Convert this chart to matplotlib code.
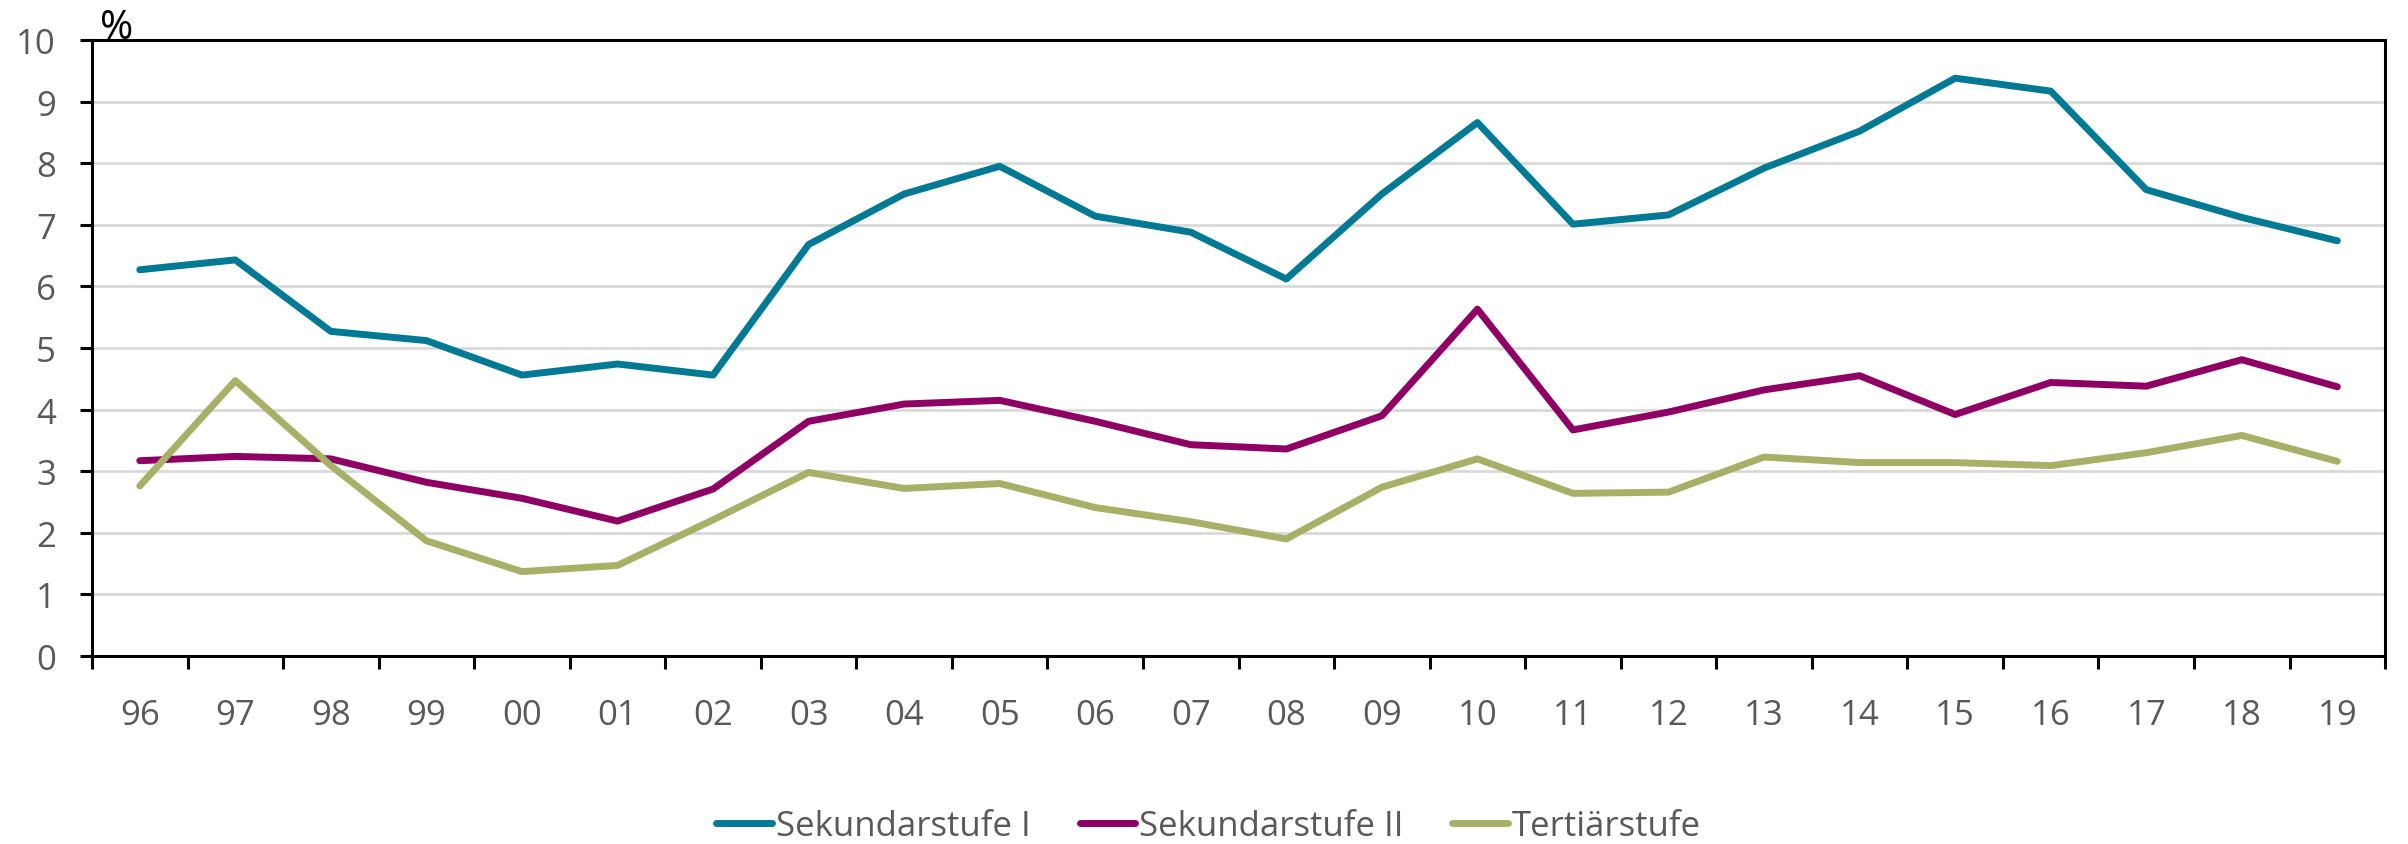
import matplotlib.pyplot as plt
from matplotlib.ticker import FixedLocator

plt.rcParams['font.family'] = ['Open Sans', 'DejaVu Sans']

years = ['96', '97', '98', '99', '00', '01', '02', '03', '04', '05', '06', '07',
         '08', '09', '10', '11', '12', '13', '14', '15', '16', '17', '18', '19']

sek1 = [6.27, 6.43, 5.27, 5.12, 4.56, 4.74, 4.56, 6.68, 7.50, 7.95, 7.14, 6.88,
        6.12, 7.50, 8.66, 7.01, 7.16, 7.92, 8.52, 9.38, 9.17, 7.57, 7.12, 6.74]
sek2 = [3.17, 3.24, 3.20, 2.82, 2.56, 2.19, 2.71, 3.81, 4.09, 4.15, 3.81, 3.43,
        3.36, 3.90, 5.63, 3.67, 3.96, 4.32, 4.55, 3.92, 4.44, 4.38, 4.81, 4.37]
tert = [2.76, 4.47, 3.09, 1.87, 1.37, 1.47, 2.21, 2.98, 2.72, 2.80, 2.41, 2.18,
        1.90, 2.74, 3.20, 2.64, 2.66, 3.23, 3.14, 3.14, 3.09, 3.30, 3.58, 3.16]

names = ['Sekundarstufe I', 'Sekundarstufe II', 'Tertiärstufe']
colors = ['#007A94', '#8E0063', '#A8B068']

fig = plt.figure(figsize=(24.08, 8.45), dpi=100)
ax = fig.add_axes([0.0382, 0.2225, 0.9523, 0.729])

x = list(range(len(years)))
for vals, name, col in zip([sek1, sek2, tert], names, colors):
    ax.plot(x, vals, color=col, lw=5, label=name, solid_capstyle='round', zorder=3)

ax.set_xlim(-0.5, len(years) - 0.5)
ax.set_ylim(0, 10)
ax.set_yticks(range(0, 11))
ax.set_xticks(x)
ax.set_xticklabels(years)
ax.xaxis.set_minor_locator(FixedLocator([i - 0.5 for i in range(len(years) + 1)]))

ax.grid(axis='y', color='#D9D9D9', lw=2, zorder=0)
for s in ax.spines.values():
    s.set_linewidth(2.2)
    s.set_color('black')

ax.tick_params(axis='x', which='major', length=0, pad=30, labelsize=25, labelcolor='#595959')
ax.tick_params(axis='x', which='minor', length=9, width=2.2, direction='out')
ax.tick_params(axis='y', length=9, width=2.2, pad=17, labelsize=25, labelcolor='#595959')

fig.text(0.0415, 0.954, '%', fontsize=29, color='black', va='baseline')

fig.legend(loc='center', bbox_to_anchor=(0.502, 0.021), ncol=3, frameon=False,
           fontsize=25, handlelength=1.6, handletextpad=0.12, columnspacing=1.4,
           labelcolor='#595959')

fig.savefig('out.png', dpi=100)
